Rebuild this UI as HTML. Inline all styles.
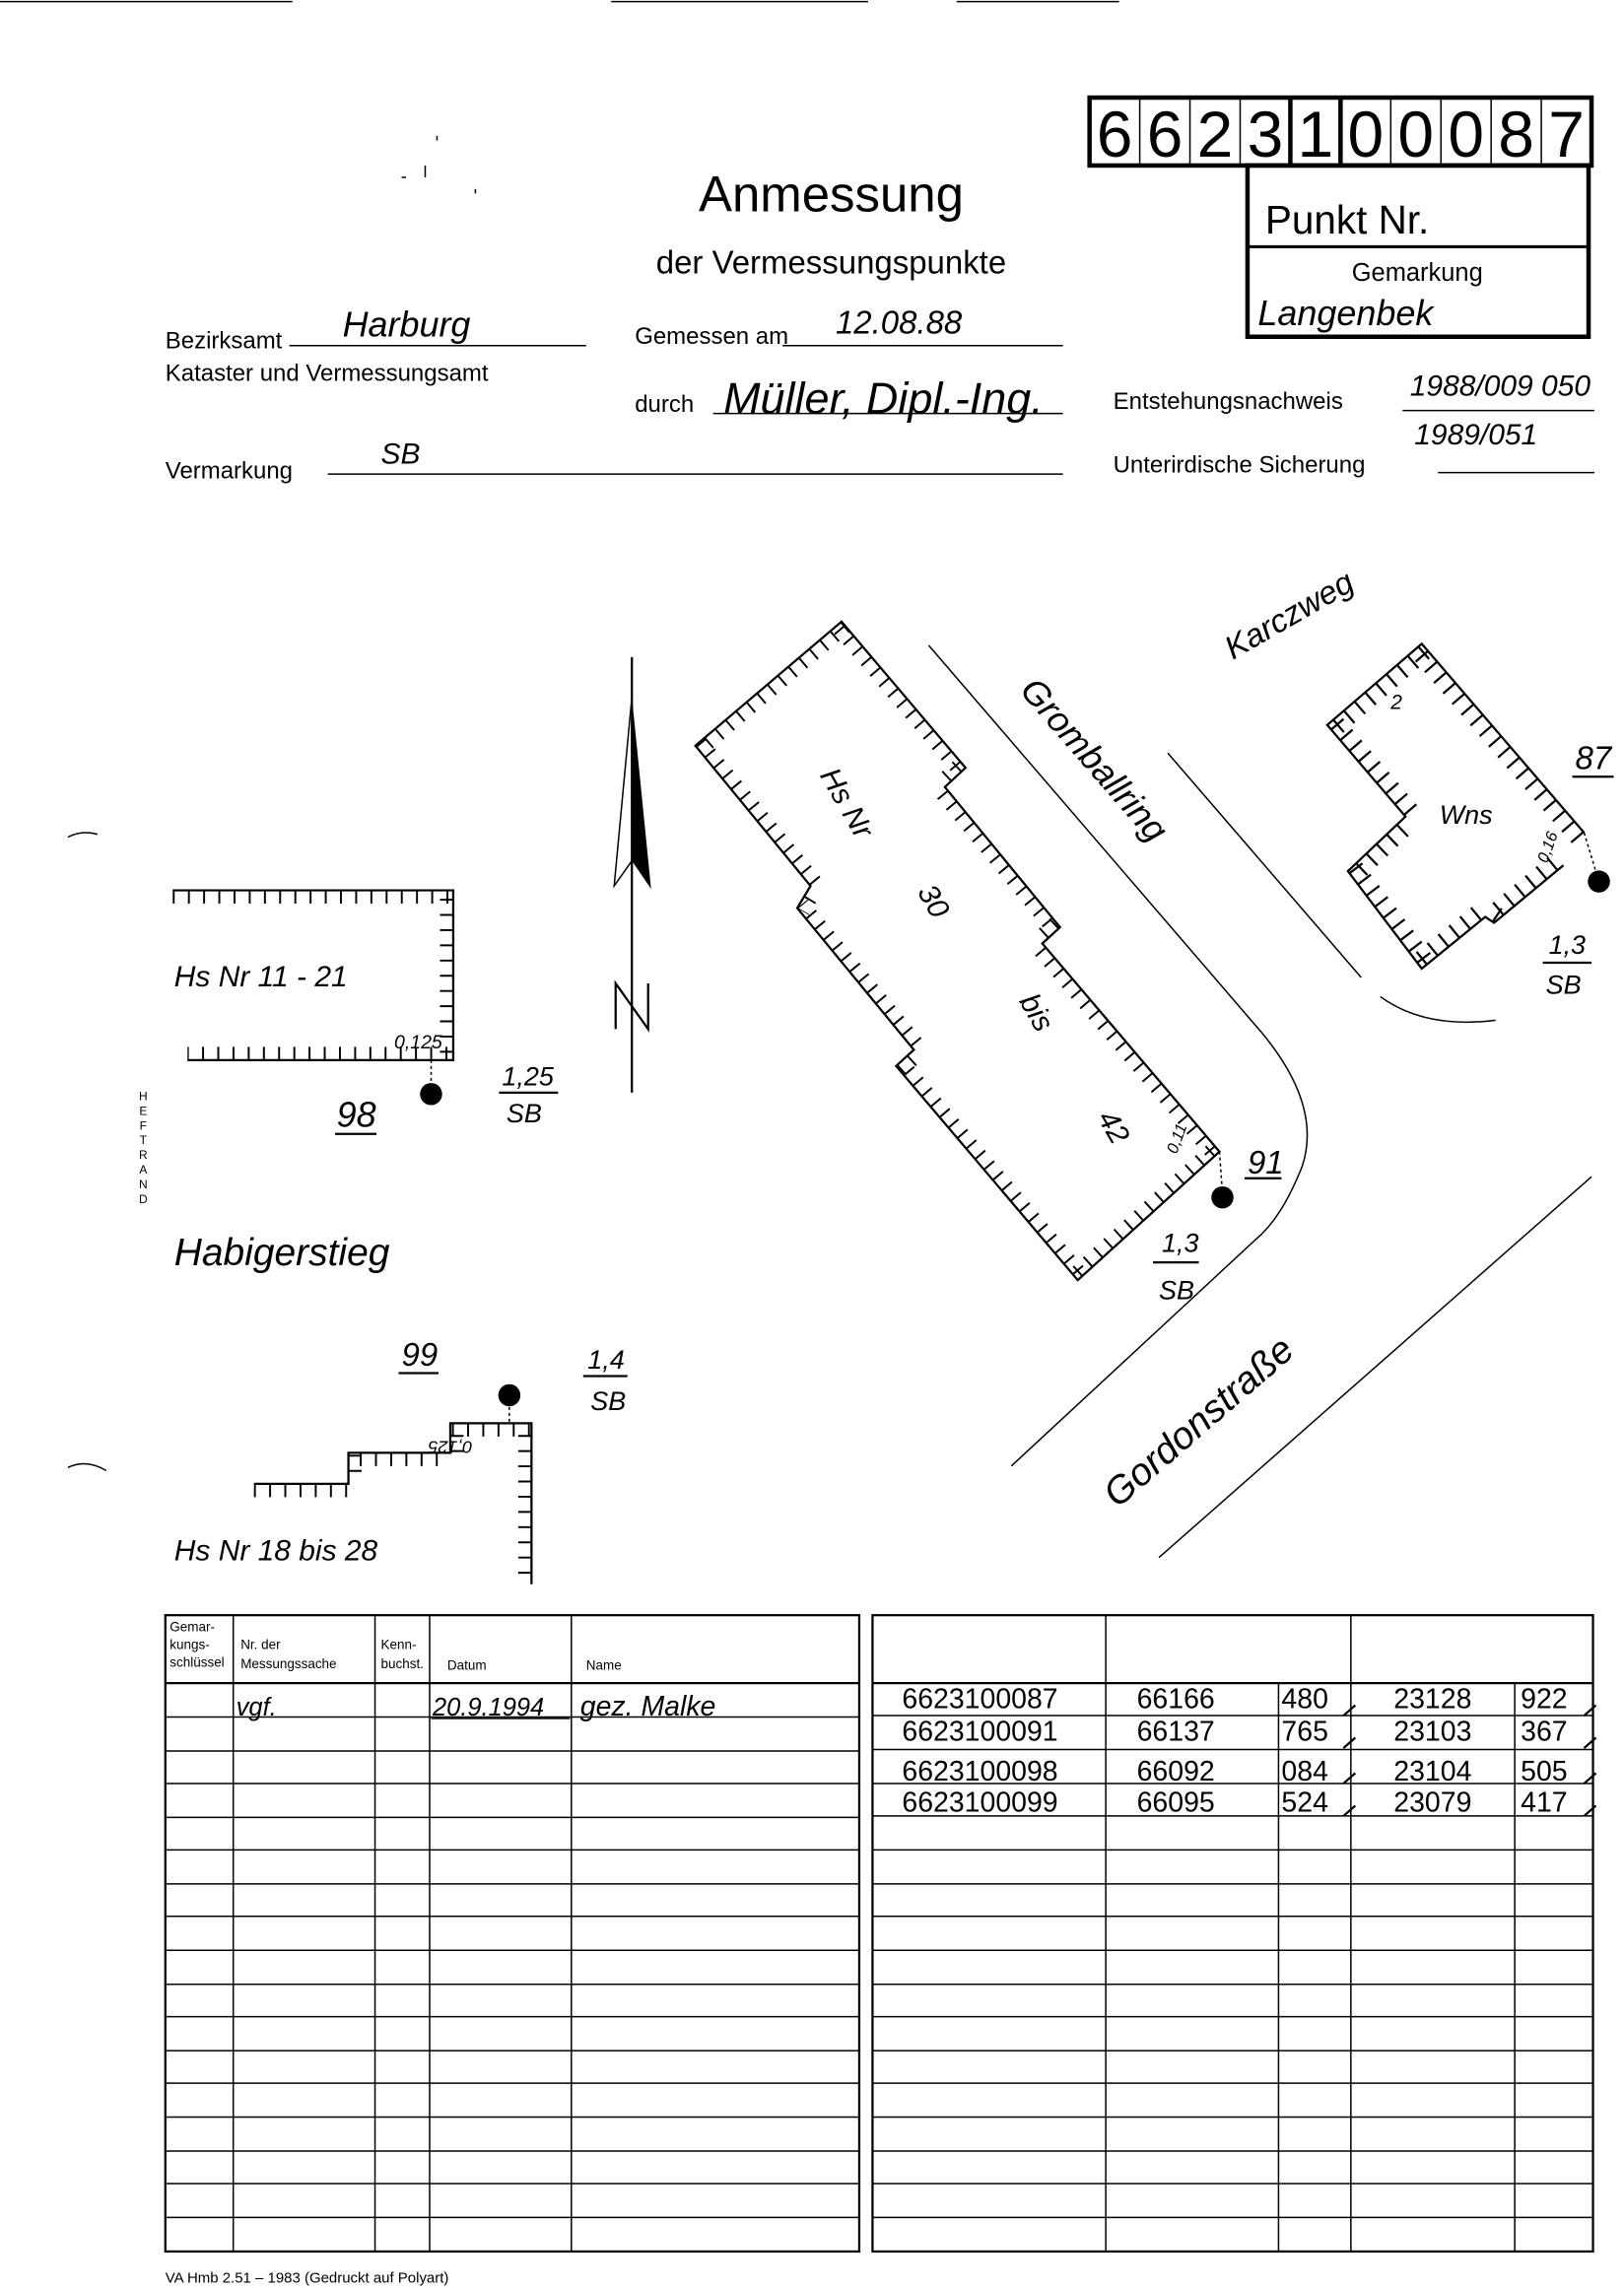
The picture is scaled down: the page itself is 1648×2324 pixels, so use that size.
<!DOCTYPE html>
<html><head><meta charset="utf-8"><style>
html,body{margin:0;padding:0;background:#fff;}
svg{display:block}
.p{font-family:"Liberation Sans",sans-serif;fill:#000}
.h{font-family:"Liberation Sans",sans-serif;font-style:italic;fill:#000}
.n{font-family:"Liberation Sans",sans-serif;font-stretch:condensed;fill:#000}
</style></head><body>
<svg width="1648" height="2324" viewBox="0 0 1100 1551" xmlns="http://www.w3.org/2000/svg">
<rect width="1100" height="1551" fill="#fff"/>
<g stroke="#000" stroke-width="1" fill="none">
<line x1="0" y1="1" x2="198" y2="1"/><line x1="414" y1="1" x2="588" y2="1"/><line x1="648" y1="1" x2="758" y2="1"/>
</g>
<g stroke="#000" fill="none">
<rect x="738" y="66" width="340" height="46" stroke-width="3"/>
<g stroke-width="1">
<line x1="772" y1="66" x2="772" y2="112"/><line x1="806" y1="66" x2="806" y2="112"/><line x1="840" y1="66" x2="840" y2="112"/>
<line x1="942" y1="66" x2="942" y2="112"/><line x1="976" y1="66" x2="976" y2="112"/><line x1="1010" y1="66" x2="1010" y2="112"/><line x1="1044" y1="66" x2="1044" y2="112"/>
</g>
<line x1="874" y1="66" x2="874" y2="112" stroke-width="3"/><line x1="908" y1="66" x2="908" y2="112" stroke-width="3"/>
<rect x="845" y="112" width="231" height="116" stroke-width="3"/>
<line x1="845" y1="167" x2="1076" y2="167" stroke-width="2"/>
</g>
<g class="p" font-size="44" text-anchor="middle">
<text x="755" y="106">6</text><text x="789" y="106">6</text><text x="823" y="106">2</text><text x="857" y="106">3</text><text x="891" y="106">1</text><text x="925" y="106">0</text><text x="959" y="106">0</text><text x="993" y="106">0</text><text x="1027" y="106">8</text><text x="1061" y="106">7</text>
</g>
<text class="p" x="857" y="158" font-size="27">Punkt Nr.</text>
<text class="p" x="960" y="190" font-size="17" text-anchor="middle">Gemarkung</text>
<text class="h" x="852" y="220" font-size="24">Langenbek</text>
<text class="p" x="563" y="143" font-size="34" text-anchor="middle">Anmessung</text>
<text class="p" x="563" y="185" font-size="22" text-anchor="middle">der Vermessungspunkte</text>
<text class="p" x="112" y="236" font-size="16">Bezirksamt</text>
<text class="p" x="112" y="258" font-size="16">Kataster und Vermessungsamt</text>
<text class="p" x="430" y="233" font-size="16">Gemessen am</text>
<text class="p" x="430" y="279" font-size="16">durch</text>
<text class="p" x="112" y="324" font-size="16">Vermarkung</text>
<text class="p" x="754" y="277" font-size="16">Entstehungsnachweis</text>
<text class="p" x="754" y="320" font-size="16">Unterirdische Sicherung</text>
<g stroke="#000" stroke-width="1">
<line x1="196" y1="234" x2="397" y2="234"/><line x1="530" y1="234" x2="720" y2="234"/>
<line x1="483" y1="280" x2="720" y2="280"/><line x1="222" y1="321" x2="720" y2="321"/>
<line x1="950" y1="278" x2="1080" y2="278"/><line x1="974" y1="320" x2="1080" y2="320"/>
</g>
<text class="h" x="232" y="228" font-size="24">Harburg</text>
<text class="h" x="566" y="226" font-size="22">12.08.88</text>
<text class="h" x="490" y="280" font-size="30">Müller, Dipl.-Ing.</text>
<text class="h" x="258" y="314" font-size="20">SB</text>
<text class="h" x="955" y="268" font-size="20">1988/009 050</text>
<text class="h" x="958" y="301" font-size="20">1989/051</text>
<g stroke="#000" stroke-width="1" fill="none">
<path d="M272 120 l3 0 M288 112 l0 8 M296 92 l0 3 M322 128 l0 3"/>
<path d="M46 567 Q55 562 66 565"/><path d="M46 994 Q58 988 72 996"/>
</g>
<g class="p" font-size="8" text-anchor="middle">
<text x="97" y="745">H</text><text x="97" y="755">E</text><text x="97" y="765">F</text><text x="97" y="775">T</text><text x="97" y="785">R</text><text x="97" y="795">A</text><text x="97" y="805">N</text><text x="97" y="815">D</text>
</g>
<defs>
<clipPath id="c1"><polygon points="570,421 471,505 549,600 540,615 619,711 607,722 730,867 826,780 706,639 718,628 640,533 654,520"/></clipPath>
<clipPath id="c2"><polygon points="963,436 899,491 952,553 913,590 963,656 1006,621 1012,625 1059,586 1073,564"/></clipPath>
<clipPath id="c3"><rect x="110" y="603" width="197" height="115"/></clipPath>
<clipPath id="c4"><polygon points="172,1005 236,1005 236,984 305,984 305,964 360,964 360,1073 170,1073"/></clipPath>
</defs>
<g fill="none" stroke="#000">
<polygon points="570,421 471,505 549,600 540,615 619,711 607,722 730,867 826,780 706,639 718,628 640,533 654,520" stroke-width="1.5"/>
<polygon clip-path="url(#c1)" points="570,421 471,505 549,600 540,615 619,711 607,722 730,867 826,780 706,639 718,628 640,533 654,520" stroke-width="18" stroke-dasharray="1.3 8" stroke-linejoin="bevel"/>
<polyline points="1073,564 963,436 899,491 952,553 913,590 963,656 1006,621 1012,625 1059,586" stroke-width="1.5"/>
<polyline clip-path="url(#c2)" points="1073,564 963,436 899,491 952,553 913,590 963,656 1006,621 1012,625 1059,586" stroke-width="22" stroke-dasharray="1.5 8" stroke-linejoin="bevel"/>
<polyline points="117,603 307,603 307,718 127,718" stroke-width="1.5"/>
<polyline clip-path="url(#c3)" points="117,603 307,603 307,718 127,718" stroke-width="18" stroke-dasharray="1.3 9" stroke-linejoin="bevel"/>
<polyline points="172,1005 236,1005 236,984 305,984 305,964 360,964 360,1073" stroke-width="1.5"/>
<polyline clip-path="url(#c4)" points="172,1005 236,1005 236,984 305,984 305,964 360,964 360,1073" stroke-width="18" stroke-dasharray="1.3 9" stroke-linejoin="bevel"/>
<path d="M629 437 L850 694 C880 728 892 760 882 790 C872 815 862 830 850 840 L685 993" stroke-width="1"/>
<line x1="791" y1="510" x2="922" y2="662" stroke-width="1"/>
<path d="M935 675 Q965 697 1013 691" stroke-width="1"/>
<line x1="785" y1="1055" x2="1078" y2="797" stroke-width="1"/>
<line x1="428" y1="445" x2="428" y2="740" stroke-width="1.5"/>
<polygon points="428,472 416,600 428,583" stroke-width="1"/>
<path d="M417 697 L417 666 L439 697 L439 666" stroke-width="1.5"/>
<path d="M826 780 L828 808 M292 718 L292 741 M345 945 L345 964 M1073 564 L1083 597" stroke-width="1" stroke-dasharray="2 2"/>
</g>
<polygon points="428,472 441,602 428,583" fill="#000"/>
<circle cx="828" cy="811" r="7.5" fill="#000"/>
<circle cx="1083" cy="597" r="7.5" fill="#000"/>
<circle cx="292" cy="741" r="7.5" fill="#000"/>
<circle cx="345" cy="945" r="7.5" fill="#000"/>
<g class="h">
<text transform="translate(690,468) rotate(49)" font-size="24">Gromballring</text>
<text transform="translate(835,447) rotate(-30)" font-size="22">Karczweg</text>
<text transform="translate(757,1022) rotate(-41)" font-size="26">Gordonstraße</text>
<text x="118" y="857" font-size="26">Habigerstieg</text>
<text transform="translate(555,525) rotate(60)" font-size="20">Hs Nr</text>
<text transform="translate(621,604) rotate(60)" font-size="20">30</text>
<text transform="translate(690,678) rotate(60)" font-size="20">bis</text>
<text transform="translate(743,757) rotate(60)" font-size="20">42</text>
<text x="975" y="558" font-size="18">Wns</text>
<text x="942" y="480" font-size="14">2</text>
<text transform="translate(797,782) rotate(-70)" font-size="11">0,11</text>
<text transform="translate(1048,585) rotate(-70)" font-size="11">0,16</text>
<text x="267" y="710" font-size="13">0,125</text>
<text transform="translate(320,976) rotate(180)" font-size="12">0,125</text>
<text x="118" y="668" font-size="20">Hs Nr  11 - 21</text>
<text x="118" y="1057" font-size="20">Hs Nr   18  bis  28</text>
<text x="845" y="795" font-size="22">91</text>
<text x="1067" y="521" font-size="22">87</text>
<text x="228" y="763" font-size="24">98</text>
<text x="272" y="925" font-size="22">99</text>
<text x="787" y="848" font-size="18">1,3</text><text x="785" y="880" font-size="18">SB</text>
<text x="1049" y="646" font-size="18">1,3</text><text x="1047" y="673" font-size="18">SB</text>
<text x="340" y="735" font-size="18">1,25</text><text x="343" y="760" font-size="18">SB</text>
<text x="398" y="927" font-size="18">1,4</text><text x="400" y="955" font-size="18">SB</text>
</g>
<g stroke="#000" stroke-width="1.5">
<line x1="843" y1="798" x2="868" y2="798"/><line x1="1065" y1="526" x2="1093" y2="526"/>
<line x1="227" y1="768" x2="255" y2="768"/><line x1="270" y1="930" x2="297" y2="930"/>
<line x1="781" y1="855" x2="812" y2="855"/><line x1="1045" y1="652" x2="1078" y2="652"/>
<line x1="338" y1="740" x2="378" y2="740"/><line x1="395" y1="932" x2="425" y2="932"/>
</g>
<g stroke="#000" fill="none">
<rect x="112" y="1094" width="470" height="431" stroke-width="1.5"/>
<rect x="591" y="1094" width="488" height="431" stroke-width="1.5"/>
<g stroke-width="1">
<line x1="158" y1="1094" x2="158" y2="1525"/><line x1="254" y1="1094" x2="254" y2="1525"/><line x1="291" y1="1094" x2="291" y2="1525"/><line x1="387" y1="1094" x2="387" y2="1525"/>
<line x1="749" y1="1094" x2="749" y2="1525"/><line x1="915" y1="1094" x2="915" y2="1525"/>
<line x1="866" y1="1140" x2="866" y2="1525"/><line x1="1026" y1="1140" x2="1026" y2="1525"/>
</g>
<line x1="112" y1="1140" x2="582" y2="1140" stroke-width="1.5"/><line x1="591" y1="1140" x2="1079" y2="1140" stroke-width="1.5"/>
<g stroke-width="1">
<path d="M112 1163H582M112 1186H582M112 1208H582M112 1231H582M112 1253H582M112 1276H582M112 1298H582M112 1321H582M112 1344H582M112 1366H582M112 1389H582M112 1411H582M112 1434H582M112 1457H582M112 1479H582M112 1502H582"/>
<path d="M591 1162H1079M591 1185H1079M591 1208H1079M591 1230H1079M591 1253H1079M591 1276H1079M591 1298H1079M591 1321H1079M591 1344H1079M591 1366H1079M591 1389H1079M591 1411H1079M591 1434H1079M591 1457H1079M591 1479H1079M591 1502H1079"/>
</g>
</g>
<g class="n" font-size="9">
<text x="115" y="1105">Gemar-</text><text x="115" y="1117">kungs-</text><text x="115" y="1129">schlüssel</text>
<text x="163" y="1117">Nr. der</text><text x="163" y="1130">Messungssache</text>
<text x="258" y="1117">Kenn-</text><text x="258" y="1130">buchst.</text>
<text x="303" y="1131">Datum</text><text x="397" y="1131">Name</text>
</g>
<text class="h" x="160" y="1162" font-size="17">vgf.</text>
<text class="h" x="293" y="1162" font-size="17">20.9.1994</text>
<text class="h" x="393" y="1162" font-size="19">gez. Malke</text>
<line x1="292" y1="1164" x2="386" y2="1164" stroke="#000"/>
<g class="p" font-size="19">
<text x="611" y="1157">6623100087</text><text x="770" y="1157">66166</text><text x="868" y="1157">480</text><text x="944" y="1157">23128</text><text x="1030" y="1157">922</text>
<text x="611" y="1179">6623100091</text><text x="770" y="1179">66137</text><text x="868" y="1179">765</text><text x="944" y="1179">23103</text><text x="1030" y="1179">367</text>
<text x="611" y="1206">6623100098</text><text x="770" y="1206">66092</text><text x="868" y="1206">084</text><text x="944" y="1206">23104</text><text x="1030" y="1206">505</text>
<text x="611" y="1227">6623100099</text><text x="770" y="1227">66095</text><text x="868" y="1227">524</text><text x="944" y="1227">23079</text><text x="1030" y="1227">417</text>
</g>
<g stroke="#000" stroke-width="1.5">
<path d="M910 1162l8-7M910 1184l8-7M910 1208l8-7M910 1230l8-7M1073 1162l8-7M1073 1184l8-7M1073 1208l8-7M1073 1230l8-7"/>
</g>
<text class="p" x="112" y="1546" font-size="10">VA Hmb 2.51 – 1983 (Gedruckt auf Polyart)</text>
</svg>
</body></html>
